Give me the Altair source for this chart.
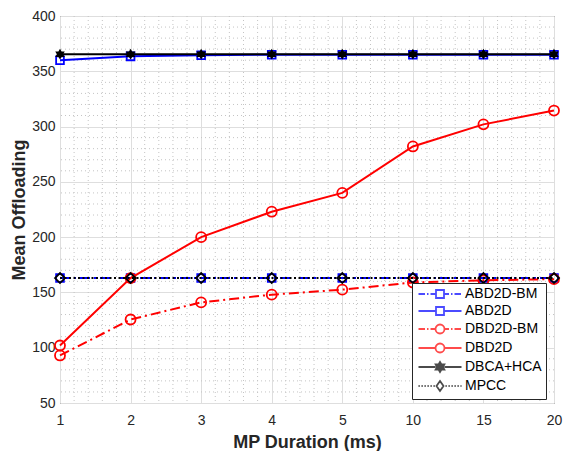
import json
import numpy as np
import pandas as pd
import altair as alt

# ---------------- data ----------------
x_labels = ["1", "2", "3", "4", "5", "10", "15", "20"]
series_names = ["ABD2D-BM", "ABD2D", "DBD2D-BM", "DBD2D", "DBCA+HCA", "MPCC"]
abd2d_bm = [163, 163, 163, 163, 163, 163, 163, 163]
abd2d = [360, 363.5, 364.5, 365, 365, 365, 365, 365]
dbd2d_bm = [93, 125.5, 141, 148, 152.5, 159, 161, 162]
dbd2d = [102, 163, 200, 223, 240, 282, 302, 314.5]
dbca_hca = [365.5, 365.5, 365.5, 365.5, 365.5, 365.5, 365.5, 365.5]
mpcc = [163, 163, 163, 163, 163, 163, 163, 163]
y_ticks = [50, 100, 150, 200, 250, 300, 350, 400]

values = [abd2d_bm, abd2d, dbd2d_bm, dbd2d, dbca_hca, mpcc]

FONT = "Liberation Sans"
TXT = "#262626"

# ---------------- styles ----------------
def hexagram(cx=0.0, R=1.0):
    pts = []
    for k in range(12):
        ang = np.deg2rad(-90 + 30 * k)
        r = R if k % 2 == 0 else R / np.sqrt(3)
        pts.append((cx + r * np.cos(ang), r * np.sin(ang)))
    return "M" + "L".join(f"{x:.3f},{y:.3f}" for x, y in pts) + "Z"

star_path = hexagram(0.0, 1.0)

DASHDOT = [10, 4, 2, 4]
styles = [
    dict(color="#0000ff", dash=DASHDOT, shape="square", size=60, filled=False, leg_dash="dashdot", leg_marker="square"),
    dict(color="#0000ff", dash=None, shape="square", size=60, filled=False, leg_dash="solid", leg_marker="square"),
    dict(color="#ff0000", dash=DASHDOT, shape="circle", size=100, filled=False, leg_dash="dashdot", leg_marker="circle"),
    dict(color="#ff0000", dash=None, shape="circle", size=100, filled=False, leg_dash="solid", leg_marker="circle"),
    dict(color="#000000", dash=None, shape=star_path, size=120, filled=True, leg_dash="solid", leg_marker="star"),
    dict(color="#000000", dash=[2, 2.5], shape="diamond", size=100, filled=False, leg_dash="dotted", leg_marker="diamond"),
]

# legend symbol paths (units; 5 px per unit with symbolSize 100)
L0, L1, C = -0.9, 7.7, 3.4


def marker_path(kind):
    if kind == "square":
        h = 0.8
        return f"M{C-h:.2f},{-h}L{C+h:.2f},{-h}L{C+h:.2f},{h}L{C-h:.2f},{h}Z", h
    if kind == "circle":
        r = 0.9
        return f"M{C-r:.2f},0A{r},{r} 0 1,0 {C+r:.2f},0A{r},{r} 0 1,0 {C-r:.2f},0Z", r
    if kind == "diamond":
        h, w = 1.0, 0.7
        return f"M{C:.2f},{-h}L{C+w:.2f},0L{C:.2f},{h}L{C-w:.2f},0Z", w
    # filled-looking star: concentric hexagrams
    return hexagram(C, 1.0) + hexagram(C, 0.6) + hexagram(C, 0.25), 0.9


def line_segments(kind, gap_a, gap_b):
    if kind == "solid":
        pattern = [(L1 - L0, 0)]
    elif kind == "dashdot":
        pattern = [(1.3, 0.4), (0.3, 0.4)]
    else:
        pattern = [(0.25, 0.35)]
    segs = []
    x = L0
    i = 0
    while x < L1:
        on, off = pattern[i % len(pattern)]
        a, b = x, min(x + on, L1)
        for (s, e) in [(a, min(b, gap_a)), (max(a, gap_b), b)]:
            if e - s > 0.05:
                segs.append(f"M{s:.2f},0L{e:.2f},0")
        x = x + on + off
        i += 1
    return "".join(segs)


legend_paths = []
for st in styles:
    mp, half = marker_path(st["leg_marker"])
    legend_paths.append(line_segments(st["leg_dash"], C - half, C + half) + mp)

colors = [st["color"] for st in styles]

# ---------------- scales / axes ----------------
xscale = alt.Scale(domain=[0, 7], nice=False, zero=False)
yscale = alt.Scale(domain=[50, 400], nice=False, zero=False)
xaxis = alt.Axis(
    values=list(range(len(x_labels))),
    labelExpr=f"{json.dumps(x_labels)}[datum.value]",
    title="MP Duration (ms)", grid=True, ticks=False, domain=False,
    labelPadding=10, titlePadding=6, labelFlush=False,
)
yaxis = alt.Axis(
    values=y_ticks, title="Mean Offloading", grid=True, ticks=False, domain=False,
    labelPadding=5, titlePadding=3, labelFlush=False,
)

X = alt.X("idx:Q", scale=xscale, axis=xaxis)
Y = alt.Y("v:Q", scale=yscale, axis=yaxis)

# minor grid
minor_x = pd.DataFrame({"idx": [i + k / 5 for i in range(7) for k in range(1, 5)]})
minor_y = pd.DataFrame({"v": [v for v in range(60, 400, 10) if v % 50 != 0]})
grid_x = alt.Chart(minor_x).mark_rule(color="#c4c4c4", strokeDash=[1, 3], strokeWidth=1).encode(x=X)
grid_y = alt.Chart(minor_y).mark_rule(color="#c4c4c4", strokeDash=[1, 3], strokeWidth=1).encode(y=Y)

layers = [grid_x, grid_y]
for name, vals, st in zip(series_names, values, styles):
    d = pd.DataFrame({"idx": list(range(len(x_labels))), "v": vals, "series": name})
    base = alt.Chart(d).encode(x=X, y=Y)
    lkw = dict(color=st["color"], strokeWidth=2)
    if st["dash"]:
        lkw["strokeDash"] = st["dash"]
    layers.append(base.mark_line(**lkw))
    layers.append(base.mark_point(shape=st["shape"], color=st["color"], size=st["size"],
                                  strokeWidth=1.8, filled=st["filled"], opacity=1))

# legend-only layer (empty data, explicit scale domains)
all_df = pd.concat([
    pd.DataFrame({"idx": list(range(len(x_labels))), "v": vals, "series": name})
    for name, vals in zip(series_names, values)
])
leg = alt.Legend(
    title=None, orient="none", legendX=352, legendY=267,
    symbolSize=100, symbolStrokeWidth=1.8, labelOffset=35,
    labelFontSize=14, labelFont=FONT, labelColor="#000000",
    padding=4, rowPadding=1, fillColor="white", strokeColor="#262626",
    labelLimit=200,
)
legend_layer = alt.Chart(all_df).transform_filter("datum.v < -1000").mark_point(filled=False).encode(
    x=X, y=Y,
    color=alt.Color("series:N", scale=alt.Scale(domain=series_names, range=colors), legend=leg),
    shape=alt.Shape("series:N", scale=alt.Scale(domain=series_names, range=legend_paths), legend=leg),
)
layers.append(legend_layer)

chart = alt.layer(*layers).properties(
    width=494, height=387,
    autosize=alt.AutoSizeParams(type="none"),
    padding={"left": 52, "top": 8, "right": 9, "bottom": 48},
).configure_view(
    stroke=TXT, strokeWidth=1
).configure_axis(
    labelFont=FONT, labelFontSize=14, labelColor=TXT,
    titleFont=FONT, titleFontSize=18, titleFontWeight="bold", titleColor=TXT,
    gridColor="#dedede", gridWidth=1,
)

chart.save("out.html", embed_options={"renderer": "svg", "actions": False})
